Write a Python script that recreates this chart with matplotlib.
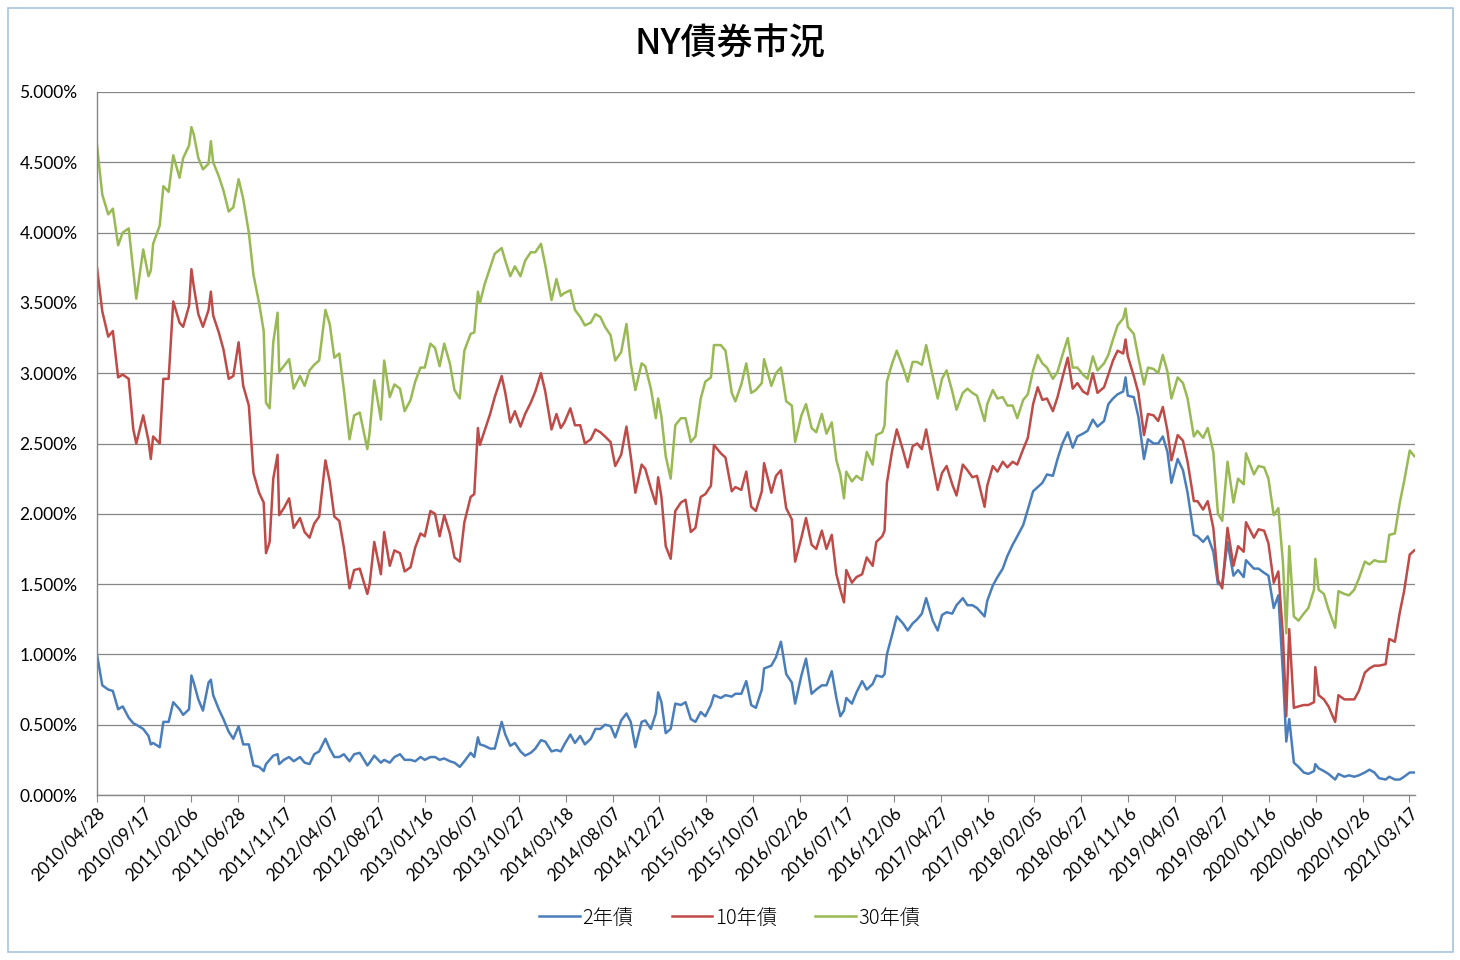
import matplotlib
matplotlib.use("Agg")
import matplotlib.pyplot as plt
import matplotlib.dates as mdates
from matplotlib.patches import Rectangle
from matplotlib.ticker import FuncFormatter
import pandas as pd

# dates and yields (%)
dates = [
    "2010-04-28", "2010-05-14", "2010-06-01", "2010-06-15", "2010-07-01", "2010-07-15", "2010-08-02", "2010-08-16",
    "2010-08-25", "2010-09-15", "2010-10-01", "2010-10-08", "2010-10-15", "2010-11-04", "2010-11-15", "2010-12-01",
    "2010-12-15",
    "2011-01-03", "2011-01-14", "2011-02-01", "2011-02-08", "2011-02-15", "2011-03-01", "2011-03-15", "2011-04-01",
    "2011-04-08", "2011-04-15", "2011-05-02", "2011-05-16", "2011-06-01", "2011-06-15", "2011-07-01", "2011-07-15",
    "2011-08-01", "2011-08-15", "2011-09-01", "2011-09-15", "2011-09-22", "2011-10-03", "2011-10-14", "2011-10-27",
    "2011-11-01", "2011-11-15", "2011-12-01", "2011-12-15",
    "2012-01-03", "2012-01-17", "2012-02-01", "2012-02-15", "2012-03-01", "2012-03-20", "2012-04-02", "2012-04-16",
    "2012-05-01", "2012-05-15", "2012-06-01", "2012-06-15", "2012-07-02", "2012-07-25", "2012-08-01", "2012-08-15",
    "2012-09-04", "2012-09-14", "2012-10-01", "2012-10-15", "2012-11-01", "2012-11-15", "2012-12-03", "2012-12-17",
    "2013-01-02", "2013-01-15", "2013-02-01", "2013-02-15", "2013-03-01", "2013-03-15", "2013-04-01", "2013-04-15",
    "2013-05-01", "2013-05-15", "2013-06-03", "2013-06-14", "2013-06-25", "2013-07-01", "2013-07-15", "2013-08-01",
    "2013-08-15", "2013-09-05", "2013-09-16", "2013-10-01", "2013-10-15", "2013-11-01", "2013-11-15", "2013-12-02",
    "2013-12-16",
    "2014-01-02", "2014-01-15", "2014-02-03", "2014-02-18", "2014-03-03", "2014-03-14", "2014-04-01", "2014-04-15",
    "2014-05-01", "2014-05-15", "2014-06-02", "2014-06-16", "2014-07-01", "2014-07-15", "2014-08-01", "2014-08-15",
    "2014-09-02", "2014-09-18", "2014-10-01", "2014-10-15", "2014-11-03", "2014-11-14", "2014-12-01", "2014-12-16",
    "2014-12-23",
    "2015-01-02", "2015-01-15", "2015-01-30", "2015-02-13", "2015-03-02", "2015-03-16", "2015-04-01", "2015-04-15",
    "2015-05-01", "2015-05-15", "2015-06-01", "2015-06-10", "2015-07-01", "2015-07-15", "2015-08-03", "2015-08-14",
    "2015-09-01", "2015-09-16", "2015-10-01", "2015-10-15", "2015-11-02", "2015-11-09", "2015-12-01", "2015-12-15",
    "2015-12-30",
    "2016-01-15", "2016-02-01", "2016-02-11", "2016-03-01", "2016-03-15", "2016-04-01", "2016-04-15", "2016-05-02",
    "2016-05-16", "2016-06-01", "2016-06-15", "2016-06-27", "2016-07-08", "2016-07-15", "2016-08-01", "2016-08-15",
    "2016-09-01", "2016-09-15", "2016-10-03", "2016-10-14", "2016-11-01", "2016-11-08", "2016-11-15", "2016-12-01",
    "2016-12-15",
    "2017-01-03", "2017-01-17", "2017-02-01", "2017-02-15", "2017-03-01", "2017-03-14", "2017-04-03", "2017-04-18",
    "2017-05-01", "2017-05-15", "2017-06-01", "2017-06-14", "2017-07-03", "2017-07-17", "2017-08-01", "2017-08-15",
    "2017-09-07", "2017-09-15", "2017-10-02", "2017-10-16", "2017-11-01", "2017-11-15", "2017-12-01", "2017-12-15",
    "2018-01-02", "2018-01-16", "2018-02-01", "2018-02-15", "2018-03-01", "2018-03-15", "2018-04-02", "2018-04-16",
    "2018-05-01", "2018-05-17", "2018-06-01", "2018-06-15", "2018-07-02", "2018-07-16", "2018-08-01", "2018-08-15",
    "2018-09-04", "2018-09-17", "2018-10-01", "2018-10-15", "2018-11-01", "2018-11-08", "2018-11-15", "2018-12-03",
    "2018-12-17",
    "2019-01-03", "2019-01-15", "2019-02-01", "2019-02-15", "2019-03-01", "2019-03-15", "2019-03-27", "2019-04-15",
    "2019-05-01", "2019-05-15", "2019-06-03", "2019-06-14", "2019-07-01", "2019-07-15", "2019-08-01", "2019-08-15",
    "2019-08-28", "2019-09-13", "2019-10-01", "2019-10-15", "2019-11-01", "2019-11-08", "2019-12-02", "2019-12-16",
    "2020-01-02", "2020-01-15", "2020-01-31", "2020-02-14", "2020-02-28", "2020-03-09", "2020-03-18", "2020-04-01",
    "2020-04-15", "2020-05-01", "2020-05-15", "2020-06-01", "2020-06-05", "2020-06-15", "2020-07-01", "2020-07-15",
    "2020-08-04", "2020-08-14", "2020-09-01", "2020-09-15", "2020-10-01", "2020-10-15", "2020-11-02", "2020-11-16",
    "2020-12-01", "2020-12-15",
    "2021-01-04", "2021-01-15", "2021-02-01", "2021-02-16", "2021-03-01", "2021-03-18", "2021-04-01",
]

y2 = [
    1.00, 0.78, 0.75, 0.74, 0.61, 0.63, 0.55, 0.51, 0.50, 0.47, 0.42, 0.36, 0.37, 0.34, 0.52, 0.52, 0.66,
    0.61, 0.57, 0.61, 0.85, 0.80, 0.68, 0.60, 0.80, 0.82, 0.71, 0.61, 0.54, 0.45, 0.40, 0.49, 0.36,
    0.36, 0.21, 0.20, 0.17, 0.22, 0.25, 0.28, 0.29, 0.22, 0.25, 0.27, 0.24,
    0.27, 0.23, 0.22, 0.29, 0.31, 0.40, 0.33, 0.27, 0.27, 0.29, 0.24, 0.29, 0.30, 0.21, 0.23, 0.28,
    0.23, 0.25, 0.23, 0.27, 0.29, 0.25, 0.25, 0.24,
    0.27, 0.25, 0.27, 0.27, 0.25, 0.26, 0.24, 0.23, 0.20, 0.24, 0.30, 0.27, 0.41, 0.36, 0.35, 0.33,
    0.33, 0.52, 0.43, 0.35, 0.37, 0.31, 0.28, 0.30, 0.33,
    0.39, 0.38, 0.31, 0.32, 0.31, 0.36, 0.43, 0.37, 0.42, 0.36, 0.40, 0.47, 0.47, 0.50, 0.49, 0.41,
    0.53, 0.58, 0.52, 0.34, 0.52, 0.53, 0.47, 0.58, 0.73,
    0.66, 0.44, 0.47, 0.65, 0.64, 0.66, 0.54, 0.52, 0.59, 0.56, 0.64, 0.71, 0.69, 0.71, 0.70, 0.72,
    0.72, 0.81, 0.64, 0.62, 0.75, 0.90, 0.92, 0.98, 1.09,
    0.86, 0.80, 0.65, 0.85, 0.97, 0.72, 0.75, 0.78, 0.78, 0.88, 0.69, 0.56, 0.60, 0.69, 0.65, 0.73,
    0.81, 0.75, 0.79, 0.85, 0.84, 0.86, 1.00, 1.14, 1.27,
    1.22, 1.17, 1.22, 1.25, 1.29, 1.40, 1.24, 1.17, 1.28, 1.30, 1.29, 1.35, 1.40, 1.35, 1.35, 1.33,
    1.27, 1.38, 1.49, 1.55, 1.61, 1.70, 1.78, 1.84,
    1.92, 2.03, 2.16, 2.19, 2.22, 2.28, 2.27, 2.39, 2.50, 2.58, 2.47, 2.55, 2.57, 2.59, 2.67, 2.62,
    2.66, 2.78, 2.82, 2.85, 2.87, 2.97, 2.84, 2.83, 2.69,
    2.39, 2.53, 2.50, 2.50, 2.55, 2.44, 2.22, 2.39, 2.31, 2.15, 1.85, 1.84, 1.80, 1.84, 1.73, 1.50,
    1.50, 1.80, 1.56, 1.60, 1.55, 1.67, 1.61, 1.61,
    1.58, 1.56, 1.33, 1.42, 0.86, 0.38, 0.54, 0.23, 0.20, 0.16, 0.15, 0.17, 0.22, 0.19, 0.17, 0.15,
    0.11, 0.15, 0.13, 0.14, 0.13, 0.14, 0.16, 0.18, 0.16, 0.12,
    0.11, 0.13, 0.11, 0.11, 0.13, 0.16, 0.16,
]

y10 = [
    3.75, 3.44, 3.26, 3.30, 2.97, 2.99, 2.96, 2.60, 2.50, 2.70, 2.52, 2.39, 2.55, 2.50, 2.96, 2.96, 3.51,
    3.36, 3.33, 3.48, 3.74, 3.62, 3.42, 3.33, 3.45, 3.58, 3.41, 3.29, 3.17, 2.96, 2.98, 3.22, 2.91,
    2.77, 2.29, 2.15, 2.08, 1.72, 1.80, 2.25, 2.42, 1.99, 2.04, 2.11, 1.90,
    1.97, 1.87, 1.83, 1.93, 1.98, 2.38, 2.23, 1.98, 1.95, 1.76, 1.47, 1.60, 1.61, 1.43, 1.50, 1.80,
    1.57, 1.87, 1.63, 1.74, 1.72, 1.59, 1.62, 1.76,
    1.86, 1.84, 2.02, 2.00, 1.84, 1.99, 1.86, 1.69, 1.66, 1.94, 2.12, 2.14, 2.61, 2.49, 2.59, 2.71,
    2.83, 2.98, 2.86, 2.65, 2.73, 2.62, 2.71, 2.79, 2.87,
    3.00, 2.87, 2.60, 2.71, 2.61, 2.65, 2.75, 2.63, 2.63, 2.50, 2.53, 2.60, 2.58, 2.55, 2.51, 2.34,
    2.42, 2.62, 2.41, 2.15, 2.35, 2.32, 2.18, 2.07, 2.26,
    2.12, 1.77, 1.68, 2.02, 2.08, 2.10, 1.87, 1.90, 2.12, 2.14, 2.20, 2.49, 2.43, 2.40, 2.16, 2.19,
    2.17, 2.30, 2.05, 2.02, 2.16, 2.36, 2.15, 2.27, 2.31,
    2.04, 1.96, 1.66, 1.83, 1.97, 1.78, 1.75, 1.88, 1.75, 1.85, 1.57, 1.46, 1.37, 1.60, 1.51, 1.55,
    1.57, 1.69, 1.63, 1.80, 1.84, 1.88, 2.22, 2.45, 2.60,
    2.45, 2.33, 2.48, 2.50, 2.46, 2.60, 2.35, 2.17, 2.29, 2.34, 2.21, 2.13, 2.35, 2.31, 2.26, 2.27,
    2.05, 2.20, 2.34, 2.30, 2.37, 2.33, 2.37, 2.35,
    2.46, 2.54, 2.78, 2.90, 2.81, 2.82, 2.73, 2.83, 2.97, 3.11, 2.89, 2.93, 2.87, 2.85, 3.00, 2.86,
    2.90, 2.99, 3.09, 3.16, 3.14, 3.24, 3.12, 2.98, 2.86,
    2.56, 2.71, 2.70, 2.66, 2.76, 2.59, 2.38, 2.56, 2.52, 2.37, 2.09, 2.09, 2.03, 2.09, 1.90, 1.53,
    1.47, 1.90, 1.63, 1.77, 1.73, 1.94, 1.83, 1.89,
    1.88, 1.79, 1.51, 1.59, 1.13, 0.56, 1.18, 0.62, 0.63, 0.64, 0.64, 0.66, 0.91, 0.71, 0.68, 0.63,
    0.52, 0.71, 0.68, 0.68, 0.68, 0.74, 0.87, 0.90, 0.92, 0.92,
    0.93, 1.11, 1.09, 1.30, 1.45, 1.71, 1.74,
]

y30 = [
    4.62, 4.27, 4.13, 4.17, 3.91, 4.00, 4.03, 3.73, 3.53, 3.88, 3.69, 3.73, 3.92, 4.05, 4.33, 4.29, 4.55,
    4.39, 4.53, 4.62, 4.75, 4.70, 4.53, 4.45, 4.49, 4.65, 4.50, 4.40, 4.30, 4.15, 4.18, 4.38, 4.24,
    4.00, 3.70, 3.50, 3.30, 2.79, 2.75, 3.22, 3.43, 3.01, 3.05, 3.10, 2.89,
    2.98, 2.91, 3.02, 3.06, 3.09, 3.45, 3.35, 3.11, 3.14, 2.88, 2.53, 2.70, 2.72, 2.46, 2.58, 2.95,
    2.67, 3.09, 2.83, 2.92, 2.89, 2.73, 2.81, 2.94,
    3.04, 3.04, 3.21, 3.18, 3.05, 3.21, 3.07, 2.88, 2.82, 3.16, 3.28, 3.29, 3.58, 3.50, 3.63, 3.75,
    3.85, 3.89, 3.80, 3.69, 3.76, 3.69, 3.80, 3.86, 3.86,
    3.92, 3.77, 3.52, 3.67, 3.55, 3.57, 3.59, 3.45, 3.40, 3.34, 3.36, 3.42, 3.40, 3.33, 3.27, 3.09,
    3.15, 3.35, 3.07, 2.88, 3.07, 3.05, 2.89, 2.68, 2.82,
    2.69, 2.41, 2.25, 2.63, 2.68, 2.68, 2.51, 2.55, 2.82, 2.94, 2.97, 3.20, 3.20, 3.16, 2.86, 2.80,
    2.92, 3.07, 2.86, 2.88, 2.93, 3.10, 2.91, 3.00, 3.04,
    2.80, 2.77, 2.51, 2.70, 2.78, 2.61, 2.58, 2.71, 2.57, 2.65, 2.38, 2.28, 2.11, 2.30, 2.23, 2.27,
    2.24, 2.44, 2.35, 2.56, 2.58, 2.63, 2.94, 3.07, 3.16,
    3.04, 2.94, 3.08, 3.08, 3.06, 3.20, 2.98, 2.82, 2.96, 3.02, 2.87, 2.74, 2.86, 2.89, 2.86, 2.84,
    2.66, 2.78, 2.88, 2.82, 2.83, 2.77, 2.77, 2.68,
    2.81, 2.85, 3.02, 3.13, 3.07, 3.04, 2.96, 3.01, 3.13, 3.25, 3.04, 3.04, 2.99, 2.96, 3.12, 3.02,
    3.07, 3.13, 3.24, 3.34, 3.39, 3.46, 3.33, 3.28, 3.11,
    2.92, 3.04, 3.03, 3.00, 3.13, 3.01, 2.82, 2.97, 2.93, 2.82, 2.55, 2.59, 2.54, 2.61, 2.44, 2.00,
    1.95, 2.37, 2.08, 2.25, 2.21, 2.43, 2.28, 2.34,
    2.33, 2.25, 1.99, 2.04, 1.65, 1.15, 1.77, 1.27, 1.24, 1.29, 1.33, 1.46, 1.68, 1.46, 1.43, 1.32,
    1.19, 1.45, 1.43, 1.42, 1.46, 1.54, 1.66, 1.64, 1.67, 1.66,
    1.66, 1.85, 1.86, 2.08, 2.23, 2.45, 2.41,
]

series_names = ["2年債", "10年債", "30年債"]
colors = ["#4a7ebb", "#be4b48", "#98b954"]

x = pd.to_datetime(dates)
tick_dates = pd.date_range("2010-04-28", periods=29, freq="142D")

fig = plt.figure(figsize=(14.6, 9.6), dpi=100)
fig.patch.set_facecolor("white")
fig.patches.append(Rectangle((8 / 1460, 8 / 960), 1445 / 1460, 944 / 960, transform=fig.transFigure,
                             fill=False, edgecolor="#a9c3dc", linewidth=1.2))

ax = fig.add_axes([97 / 1460, 1 - 795 / 960, (1415 - 97) / 1460, (795 - 92) / 960])

for vals, name, c in zip([y2, y10, y30], series_names, colors):
    ax.plot(x, vals, color=c, linewidth=1.8, label=name)

ax.set_ylim(0, 5)
ax.set_yticks([i * 0.5 for i in range(11)])
ax.yaxis.set_major_formatter(FuncFormatter(lambda v, p: f"{v:.3f}%"))
ax.set_xlim(pd.Timestamp("2010-04-28"), pd.Timestamp("2021-04-03"))
ax.set_xticks(tick_dates)
ax.xaxis.set_major_formatter(mdates.DateFormatter("%Y/%m/%d"))

ax.grid(axis="y", color="#868686", linewidth=0.9)
ax.set_axisbelow(True)
for s in ["top", "right"]:
    ax.spines[s].set_visible(False)
for s in ["left", "bottom"]:
    ax.spines[s].set_color("#868686")
    ax.spines[s].set_linewidth(1.0)

ax.tick_params(axis="y", length=0, pad=14, labelsize=12.5, labelcolor="black")
ax.tick_params(axis="x", length=5, direction="out", color="#868686", pad=2, labelsize=12.5)
for lab in ax.get_yticklabels() + ax.get_xticklabels():
    lab.set_family(["Lato", "DejaVu Sans"])
for lab in ax.get_xticklabels():
    lab.set_rotation(45)
    lab.set_ha("right")
    lab.set_va("top")
    lab.set_rotation_mode("anchor")

fig.text(0.5, 1 - 45 / 960, "NY債券市況", ha="center", va="center", fontsize=26,
         family=["Noto Sans CJK JP", "DejaVu Sans"], fontweight="medium")

leg = fig.legend(loc="center", bbox_to_anchor=(0.5, 1 - 918 / 960), ncol=3, frameon=False,
                 handlelength=2.0, handletextpad=0.15, columnspacing=1.9,
                 prop={"family": ["Noto Sans CJK JP", "DejaVu Sans"], "size": 14.5, "weight": "light"})
for h in leg.get_lines():
    h.set_linewidth(1.8)

fig.savefig("out.png", dpi=100, facecolor="white")
